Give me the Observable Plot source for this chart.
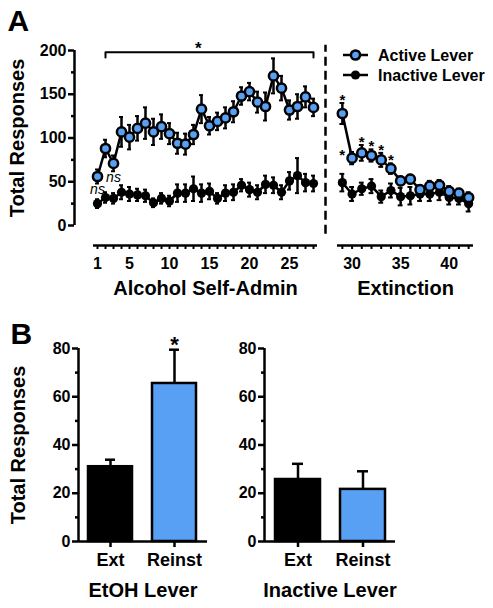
<!DOCTYPE html>
<html><head><meta charset="utf-8">
<script src="https://cdn.jsdelivr.net/npm/d3@7"></script>
<script src="https://cdn.jsdelivr.net/npm/@observablehq/plot@0.6"></script>
<style>
html,body{margin:0;padding:0;background:#fff;}
#root{position:relative;width:493px;height:608px;overflow:hidden;font-family:"Liberation Sans",Arial,sans-serif;}
#root > svg{position:absolute;}
</style></head><body><div id="root"></div>
<script>
// ---------- Panel A data ----------
const sessions = [1,2,3,4,5,6,7,8,9,10,11,12,13,14,15,16,17,18,19,20,21,22,23,24,25,26,27,28,
                  29,30,31,32,33,34,35,36,37,38,39,40,41,42];
const activeMean = [56,88,71,107,101,111,117,107,113,105,94,93,104,133,114,119,123,130,148,153,141,136,171,157,132,136,147,135,
                    128,77,83,80,75,65,51,53,41,45,46,39,37,32];
const activeSem  = [8,10,9,17,14,14,18,15,14,12,12,12,11,16,10,10,12,12,10,10,12,16,20,14,11,14,12,10,
                    12,7,9,7,8,6,5,5,5,6,6,6,5,6];
const inactiveMean = [25,32,31,38,36,35,34,26,31,28,37,37,42,37,39,31,37,38,46,41,38,47,46,38,51,57,49,48,
                      49,36,42,45,33,40,33,34,36,36,38,32,31,25];
const inactiveSem  = [5,6,6,8,8,7,7,5,6,6,10,10,14,10,9,6,9,9,7,8,8,10,9,8,10,20,10,9,
                      10,8,7,8,7,8,10,10,8,8,9,8,7,9];
const selfAdminSessions = [1,2,3,4,5,6,7,8,9,10,11,12,13,14,15,16,17,18,19,20,21,22,23,24,25,26,27,28];
const extinctionSessions = [29,30,31,32,33,34,35,36,37,38,39,40,41,42];
const selfAdminTickLabels = [1,5,10,15,20,25];
const extinctionTickLabels = [30,35,40];
const yTicksA = [0,50,100,150,200];
const yMinorA = [25,75,125,175];
const nsSessions = [1,3];
const extStars = [{s:29,side:"above"},{s:30,side:"left"},{s:31,side:"above"},{s:32,side:"above"},{s:33,side:"above"},{s:34,side:"above"}];
const bracket = {from:2, to:28, value:198, starAt:13.6};
const legendItems = ["Active Lever","Inactive Lever"];

// ---------- Panel B data ----------
const phases = ["Ext","Reinst"];
const etohMean = [31, 65.5];
const etohSem = [2.9, 14];
const inactLeverMean = [25.7, 21.6];
const inactLeverSem = [6.5, 7.5];
const yTicksB = [0,20,40,60,80];
const yMinorB = [10,30,50,70];

const blue = "#58a0f4";
const font = '"Liberation Sans", Arial, Helvetica, sans-serif';
const baseStyle = {fontFamily: font, fontWeight: "bold", fontSize: "16px", color: "black", background: "transparent", overflow: "visible"};

const rows = sessions.map((s, i) => ({s, a: activeMean[i], ae: activeSem[i], n: inactiveMean[i], ne: inactiveSem[i]}));
const saRows = rows.filter(d => selfAdminSessions.includes(d.s));
const exRows = rows.filter(d => extinctionSessions.includes(d.s));

function seriesMarks(data) {
  return [
    Plot.line(data, {x: "s", y: "n", stroke: "black", strokeWidth: 2.5}),
    Plot.ruleX(data, {x: "s", y1: d => d.n - d.ne, y2: d => d.n + d.ne, strokeWidth: 2.5}),
    Plot.ruleY(data, {y: d => d.n + d.ne, x1: d => d.s - 0.25, x2: d => d.s + 0.25, strokeWidth: 2}),
    Plot.ruleY(data, {y: d => d.n - d.ne, x1: d => d.s - 0.25, x2: d => d.s + 0.25, strokeWidth: 2}),
    Plot.dot(data, {x: "s", y: "n", r: 4.6, fill: "black"}),
    Plot.line(data, {x: "s", y: "a", stroke: "black", strokeWidth: 2.5}),
    Plot.ruleX(data, {x: "s", y1: d => d.a - d.ae, y2: d => d.a + d.ae, strokeWidth: 2.5}),
    Plot.ruleY(data, {y: d => d.a + d.ae, x1: d => d.s - 0.25, x2: d => d.s + 0.25, strokeWidth: 2}),
    Plot.ruleY(data, {y: d => d.a - d.ae, x1: d => d.s - 0.25, x2: d => d.s + 0.25, strokeWidth: 2}),
    Plot.dot(data, {x: "s", y: "a", r: 4.6, fill: blue, stroke: "black", strokeWidth: 2.5})
  ];
}

const root = document.getElementById("root");
function place(svg, left, top) { svg.style.left = left + "px"; svg.style.top = top + "px"; root.appendChild(svg); }

// ---------- Panel A: self-administration ----------
const bracketPts = [
  {s: bracket.from, v: bracket.value - 6}, {s: bracket.from, v: bracket.value},
  {s: bracket.to, v: bracket.value}, {s: bracket.to, v: bracket.value - 6}
];
const nsRows = saRows.filter(d => nsSessions.includes(d.s));

const aLeft = Plot.plot({
  width: 330, height: 300,
  marginLeft: 93, marginRight: 13, marginTop: 50, marginBottom: 75,
  x: {domain: [0.5, 28.5]},
  y: {domain: [0, 200]},
  style: baseStyle,
  marks: [
    Plot.ruleX([0.5], {y1: 0, y2: 200, dx: -19, strokeWidth: 2.5}),
    Plot.axisY({ticks: yTicksA, tickSize: 6, tickPadding: 2, dx: -19, strokeWidth: 2.5, fontSize: 16, label: null}),
    Plot.axisY({ticks: yMinorA, tickSize: 3, tickFormat: () => "", dx: -19, strokeWidth: 2.5, label: null}),
    Plot.ruleY([0], {dy: 20, strokeWidth: 2.5}),
    Plot.axisX({ticks: selfAdminSessions, tickSize: 4, tickFormat: () => "", dy: 20, strokeWidth: 2, label: null}),
    Plot.axisX({ticks: selfAdminTickLabels, tickSize: 0, tickPadding: 12, dy: 20, fontSize: 16, label: null}),
    ...seriesMarks(saRows),
    Plot.line(bracketPts, {x: "s", y: "v", strokeWidth: 2}),
    Plot.text([bracket], {x: "starAt", y: "value", text: () => "*", dy: -4, fontSize: 17}),
    Plot.text(nsRows, {x: "s", y: d => d.a - d.ae, dy: 6, text: () => "ns", fontStyle: "italic", fontWeight: "normal", fontSize: 14}),
    Plot.text(["Alcohol Self-Admin"], {frameAnchor: "bottom", lineAnchor: "middle", textAnchor: "middle", dy: 63, fontSize: 20}),
    Plot.text(["Total Responses"], {frameAnchor: "left", rotate: -90, textAnchor: "middle", lineAnchor: "middle", dx: -76, fontSize: 20}),
    Plot.text(["A"], {frameAnchor: "top-left", textAnchor: "start", lineAnchor: "middle", dx: -86, dy: -29, fontSize: 30})
  ]
});
place(aLeft, 0, 0);

// ---------- Panel A: extinction ----------
const starRows = extStars.map(o => ({...exRows.find(d => d.s === o.s), side: o.side}));
const aRight = Plot.plot({
  width: 163, height: 300,
  marginLeft: 7, marginRight: 20, marginTop: 50, marginBottom: 75,
  x: {domain: [28.5, 42.5]},
  y: {domain: [0, 200], axis: null},
  style: baseStyle,
  marks: [
    Plot.ruleX([28.5], {y1: -10, y2: 206, dx: -12, strokeWidth: 2.5, strokeDasharray: "9,5"}),
    Plot.ruleY([0], {dy: 20, strokeWidth: 2.5}),
    Plot.axisX({ticks: extinctionSessions, tickSize: 4, tickFormat: () => "", dy: 20, strokeWidth: 2, label: null}),
    Plot.axisX({ticks: extinctionTickLabels, tickSize: 0, tickPadding: 12, dy: 20, fontSize: 16, label: null}),
    ...seriesMarks(exRows),
    Plot.text(starRows.filter(d => d.side === "above"), {x: "s", y: d => d.a + d.ae, text: () => "*", dy: -3, fontSize: 15}),
    Plot.text(starRows.filter(d => d.side === "left"), {x: "s", y: "a", text: () => "*", dx: -10, dy: -3, fontSize: 15}),
    Plot.text(["Extinction"], {frameAnchor: "bottom", lineAnchor: "middle", textAnchor: "middle", dy: 63, fontSize: 20})
  ]
});
place(aRight, 330, 0);

// ---------- Legend ----------
const leg = d3.create("svg").attr("width", 163).attr("height", 50)
  .style("font-family", font).style("font-weight", "bold").style("font-size", "16px");
const li = leg.selectAll("g").data(legendItems).join("g")
  .attr("transform", (d, i) => `translate(0,${15 + i * 20})`);
li.append("line").attr("x1", 13).attr("x2", 38).attr("stroke", "black").attr("stroke-width", 2.5);
li.append("circle").attr("cx", 25.5).attr("r", 4.6)
  .attr("fill", (d, i) => i === 0 ? blue : "black")
  .attr("stroke", "black").attr("stroke-width", (d, i) => i === 0 ? 2.5 : 0);
li.append("text").attr("x", 48).attr("dy", "0.35em").text(d => d);
place(leg.node(), 330, 40);

// ---------- Panel B ----------
function barChart({means, sems, title, left, width, marginLeft, marginRight, starPhase, yTitle, letter}) {
  const data = phases.map((p, i) => ({p, mean: means[i], sem: sems[i]}));
  const innerW = width - marginLeft - marginRight;
  const marks = [
    Plot.barY(data, {x: "p", y: "mean", fill: "p", stroke: "black", strokeWidth: 2.5}),
    Plot.ruleX(data, {x: "p", y1: "mean", y2: d => d.mean + d.sem, strokeWidth: 2.5}),
    Plot.tickY(data, {x: "p", y: d => d.mean + d.sem, strokeWidth: 2.5, insetLeft: 17, insetRight: 17}),
    Plot.ruleY([0], {strokeWidth: 2.5}),
    Plot.ruleX([0], {x: null, y1: 0, y2: 80, dx: -innerW / 2, strokeWidth: 2.5}),
    Plot.axisY({ticks: yTicksB, tickSize: 6, tickPadding: 2, strokeWidth: 2.5, fontSize: 16, label: null}),
    Plot.axisY({ticks: yMinorB, tickSize: 3, tickFormat: () => "", strokeWidth: 2.5, label: null}),
    Plot.axisX({tickSize: 6, tickPadding: 6, strokeWidth: 2.5, fontSize: 18, label: null}),
    Plot.text([title], {frameAnchor: "bottom", lineAnchor: "middle", textAnchor: "middle", dy: 49, fontSize: 20})
  ];
  if (starPhase) marks.push(Plot.text(data.filter(d => d.p === starPhase), {x: "p", y: d => d.mean + d.sem, text: () => "*", dy: -5, fontSize: 22}));
  if (yTitle) marks.push(Plot.text([yTitle], {frameAnchor: "left", rotate: -90, textAnchor: "middle", lineAnchor: "middle", dx: -60, fontSize: 20}));
  if (letter) marks.push(Plot.text([letter], {frameAnchor: "top-left", textAnchor: "start", lineAnchor: "middle", dx: -68, dy: -14, fontSize: 30}));
  const svg = Plot.plot({
    width, height: 308,
    marginLeft, marginRight, marginTop: 48, marginBottom: 67,
    x: {type: "band", domain: phases, paddingInner: 0.31, paddingOuter: 0.15},
    y: {domain: [0, 80]},
    color: {domain: phases, range: ["black", blue]},
    style: baseStyle,
    marks
  });
  place(svg, left, 300);
}
barChart({means: etohMean, sems: etohSem, title: "EtOH Lever", left: 0, width: 240, marginLeft: 78, marginRight: 33, starPhase: "Reinst", yTitle: "Total Responses", letter: "B"});
barChart({means: inactLeverMean, sems: inactLeverSem, title: "Inactive Lever", left: 240, width: 253, marginLeft: 24, marginRight: 98});
</script>
</body></html>
